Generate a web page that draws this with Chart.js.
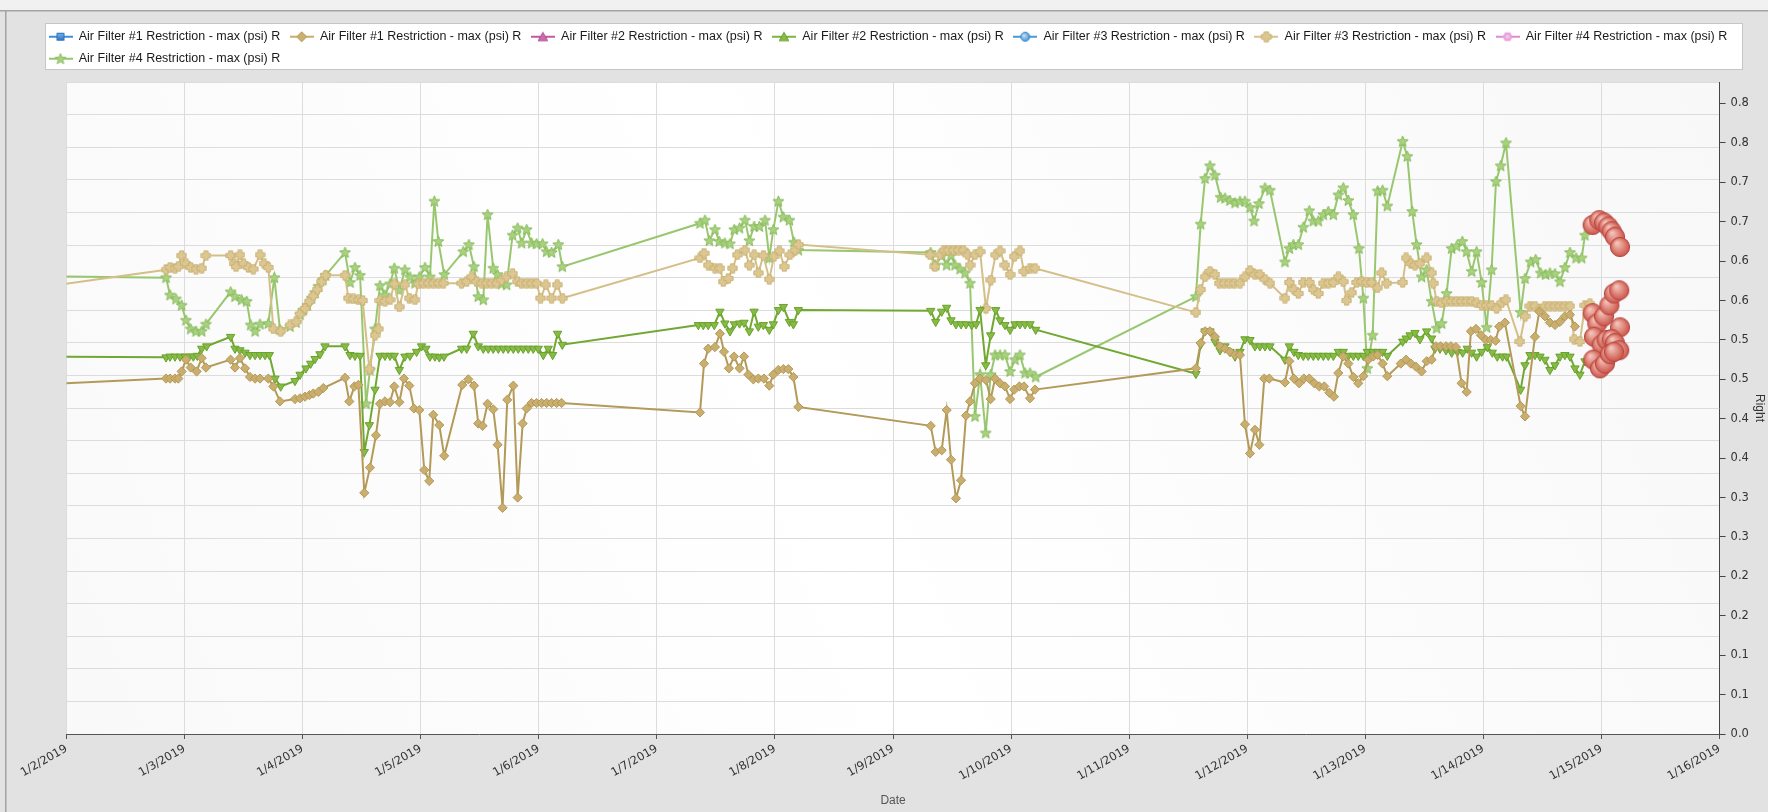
<!DOCTYPE html>
<html><head><meta charset="utf-8">
<script src="https://cdn.jsdelivr.net/npm/chart.js"></script>
<style>html,body{margin:0;padding:0;background:#e2e2e2;}canvas{display:block;}</style>
</head><body>
<canvas id="c" width="1768" height="812"></canvas>
<script>
// ---------- DATA ----------
const xTickLabels = ['1/2/2019','1/3/2019','1/4/2019','1/5/2019','1/6/2019','1/7/2019','1/8/2019','1/9/2019','1/10/2019','1/11/2019','1/12/2019','1/13/2019','1/14/2019','1/15/2019','1/16/2019'];
const yTickLabels = ['0.0','0.1','0.1','0.2','0.2','0.3','0.3','0.4','0.4','0.5','0.5','0.6','0.6','0.7','0.7','0.8','0.8'];
const seriesNames = [
 'Air Filter #1 Restriction - max (psi) R','Air Filter #1 Restriction - max (psi) R',
 'Air Filter #2 Restriction - max (psi) R','Air Filter #2 Restriction - max (psi) R',
 'Air Filter #3 Restriction - max (psi) R','Air Filter #3 Restriction - max (psi) R',
 'Air Filter #4 Restriction - max (psi) R','Air Filter #4 Restriction - max (psi) R'];

// [day offset from 1/2/2019, psi]
const filter1 = [
[-0.3,0.443],[0.843,0.451],[0.877,0.451],[0.919,0.451],[0.947,0.451],[0.975,0.460],[1.012,0.475],[1.052,0.465],[1.102,0.460],[1.145,0.477],[1.181,0.465],
[1.390,0.475],[1.427,0.465],[1.469,0.477],[1.512,0.464],[1.554,0.453],[1.597,0.451],[1.639,0.451],[1.709,0.451],[1.752,0.441],[1.808,0.422],
[1.935,0.425],[1.978,0.426],[2.020,0.428],[2.057,0.430],[2.090,0.432],[2.133,0.434],[2.175,0.439],[2.359,0.452],[2.395,0.422],[2.438,0.441],[2.472,0.443],
[2.522,0.306],[2.570,0.338],[2.621,0.379],[2.655,0.419],[2.697,0.422],[2.740,0.421],[2.776,0.441],[2.819,0.421],
[2.858,0.451],[2.903,0.442],[2.943,0.413],[2.988,0.411],[3.030,0.335],[3.072,0.321],[3.106,0.405],[3.157,0.392],[3.199,0.353],
[3.352,0.443],[3.403,0.450],[3.451,0.442],[3.487,0.394],[3.524,0.391],[3.566,0.419],[3.614,0.412],[3.651,0.367],[3.693,0.287],[3.733,0.424],[3.784,0.442],[3.821,0.300],[3.863,0.394],[3.897,0.413],
[3.939,0.420],[3.981,0.420],[4.024,0.420],[4.066,0.420],[4.108,0.420],[4.151,0.420],[4.193,0.420],
[5.365,0.408],[5.399,0.470],[5.435,0.489],[5.492,0.491],[5.534,0.508],[5.568,0.485],[5.610,0.464],[5.653,0.479],[5.700,0.464],[5.738,0.479],[5.775,0.456],[5.817,0.450],[5.859,0.451],[5.907,0.451],[5.952,0.442],[5.986,0.456],[6.029,0.462],[6.071,0.463],[6.113,0.463],[6.156,0.453],[6.198,0.415],
[7.319,0.391],[7.361,0.358],[7.412,0.360],[7.454,0.411],[7.491,0.348],[7.533,0.299],[7.576,0.322],[7.618,0.404],[7.652,0.422],[7.694,0.445],[7.737,0.451],[7.787,0.449],[7.827,0.425],[7.864,0.451],[7.906,0.445],[7.948,0.441],[7.991,0.425],[8.027,0.437],[8.070,0.441],[8.109,0.441],[8.160,0.426],[8.202,0.437],
[9.565,0.464],[9.605,0.496],[9.642,0.511],[9.684,0.511],[9.726,0.504],[9.769,0.492],[9.811,0.489],[9.853,0.485],[9.896,0.481],[9.938,0.481],[9.980,0.393],[10.023,0.356],[10.065,0.386],[10.102,0.367],[10.144,0.451],[10.186,0.451],
[10.319,0.446],[10.356,0.473],[10.395,0.451],[10.440,0.445],[10.480,0.451],[10.525,0.451],[10.568,0.445],[10.610,0.441],[10.652,0.441],[10.695,0.433],[10.734,0.428],[10.771,0.458],[10.813,0.479],[10.856,0.470],[10.898,0.453],[10.940,0.445],[10.983,0.454],[11.025,0.475],[11.067,0.479],[11.104,0.481],[11.146,0.470],[11.186,0.454],
[11.300,0.470],[11.345,0.475],[11.385,0.470],[11.428,0.466],[11.476,0.460],[11.519,0.473],[11.561,0.475],[11.598,0.492],[11.637,0.492],[11.683,0.492],[11.725,0.492],[11.767,0.491],[11.815,0.445],[11.858,0.434],[11.894,0.511],[11.937,0.514],[11.979,0.506],[12.021,0.500],[12.061,0.500],[12.103,0.499],[12.134,0.517],[12.182,0.522],
[12.315,0.416],[12.352,0.403],[12.436,0.504],[12.473,0.536],[12.521,0.530],[12.563,0.522],[12.606,0.519],[12.648,0.523],[12.690,0.530],[12.733,0.532],[12.775,0.517]
];
const filter2 = [
[-0.3,0.479],[0.843,0.478],[0.877,0.479],[0.919,0.479],[0.961,0.479],[1.004,0.479],[1.040,0.479],[1.074,0.479],[1.108,0.480],[1.145,0.489],[1.187,0.492],
[1.390,0.504],[1.427,0.489],[1.469,0.487],[1.512,0.484],[1.554,0.481],[1.597,0.481],[1.639,0.481],[1.681,0.481],[1.718,0.481],[1.766,0.451],[1.814,0.441],
[1.935,0.448],[1.978,0.456],[2.028,0.464],[2.068,0.470],[2.105,0.476],[2.147,0.482],[2.189,0.492],[2.359,0.492],[2.401,0.481],[2.443,0.480],[2.486,0.480],
[2.522,0.358],[2.565,0.392],[2.613,0.437],[2.655,0.480],[2.697,0.480],[2.740,0.480],[2.776,0.480],[2.819,0.462],
[2.866,0.479],[2.909,0.480],[2.965,0.485],[3.007,0.492],[3.044,0.489],[3.078,0.479],[3.120,0.479],[3.157,0.478],[3.197,0.479],
[3.346,0.489],[3.389,0.489],[3.445,0.508],[3.487,0.492],[3.530,0.489],[3.572,0.489],[3.614,0.489],[3.657,0.489],[3.699,0.489],[3.741,0.489],[3.784,0.489],[3.826,0.489],[3.868,0.489],[3.911,0.489],[3.953,0.489],[3.995,0.489],
[4.038,0.481],[4.080,0.489],[4.117,0.481],[4.159,0.508],[4.199,0.494],
[5.351,0.519],[5.393,0.519],[5.435,0.519],[5.486,0.519],[5.534,0.536],[5.576,0.521],[5.619,0.511],[5.656,0.520],[5.700,0.521],[5.738,0.522],[5.783,0.511],[5.823,0.536],[5.859,0.517],[5.902,0.519],[5.952,0.513],[5.986,0.520],[6.029,0.538],[6.071,0.542],[6.122,0.523],[6.156,0.520],[6.198,0.538],
[7.319,0.537],[7.361,0.523],[7.412,0.536],[7.454,0.541],[7.491,0.525],[7.533,0.520],[7.576,0.520],[7.618,0.520],[7.666,0.519],[7.703,0.520],[7.737,0.538],[7.785,0.468],[7.827,0.506],[7.869,0.538],[7.906,0.525],[7.948,0.519],[7.991,0.513],[8.033,0.520],[8.075,0.520],[8.118,0.520],[8.160,0.520],[8.208,0.513],
[9.565,0.457],[9.605,0.494],[9.642,0.511],[9.684,0.511],[9.726,0.498],[9.769,0.487],[9.811,0.492],[9.853,0.485],[9.896,0.479],[9.938,0.485],[9.980,0.501],[10.023,0.500],[10.065,0.492],[10.107,0.492],[10.150,0.492],[10.192,0.492],
[10.319,0.475],[10.356,0.492],[10.395,0.485],[10.432,0.481],[10.474,0.480],[10.516,0.480],[10.559,0.480],[10.601,0.480],[10.644,0.480],[10.686,0.480],[10.729,0.480],[10.771,0.485],[10.813,0.485],[10.856,0.480],[10.898,0.480],[10.940,0.480],[10.983,0.480],[11.016,0.485],[11.062,0.485],[11.104,0.485],[11.146,0.485],[11.186,0.480],
[11.316,0.498],[11.345,0.502],[11.378,0.506],[11.420,0.509],[11.462,0.501],[11.519,0.511],[11.561,0.502],[11.589,0.489],[11.632,0.489],[11.683,0.487],[11.731,0.484],[11.779,0.485],[11.824,0.484],[11.863,0.489],[11.900,0.484],[11.942,0.479],[11.985,0.485],[12.033,0.491],[12.075,0.484],[12.117,0.479],[12.162,0.479],[12.196,0.479],
[12.315,0.437],[12.352,0.468],[12.394,0.481],[12.436,0.481],[12.479,0.479],[12.521,0.475],[12.563,0.462],[12.606,0.468],[12.648,0.479],[12.690,0.481],[12.733,0.479],[12.775,0.464],[12.817,0.456],[12.860,0.473]
];
const filter3 = [
[-0.3,0.565],[0.843,0.589],[0.877,0.592],[0.919,0.591],[0.947,0.593],[0.975,0.607],[1.012,0.597],[1.052,0.592],[1.097,0.590],[1.145,0.591],[1.181,0.607],
[1.390,0.607],[1.419,0.597],[1.436,0.593],[1.469,0.608],[1.498,0.597],[1.540,0.592],[1.582,0.590],[1.639,0.608],[1.673,0.597],[1.709,0.592],[1.752,0.514],[1.814,0.511],
[1.893,0.519],[1.944,0.523],[1.978,0.533],[2.020,0.540],[2.057,0.549],[2.090,0.556],[2.124,0.564],[2.161,0.574],[2.195,0.582],[2.359,0.582],[2.387,0.553],[2.429,0.552],[2.472,0.551],[2.508,0.550],
[2.565,0.463],[2.613,0.506],[2.641,0.514],[2.655,0.550],[2.697,0.549],[2.740,0.551],[2.776,0.571],[2.819,0.542],
[2.866,0.570],[2.903,0.553],[2.951,0.551],[2.979,0.571],[3.022,0.572],[3.064,0.572],[3.106,0.572],[3.149,0.572],[3.191,0.572],
[3.346,0.572],[3.389,0.574],[3.431,0.580],[3.473,0.574],[3.516,0.572],[3.558,0.572],[3.600,0.572],[3.643,0.572],[3.685,0.576],[3.727,0.580],[3.778,0.584],[3.818,0.574],[3.854,0.572],[3.897,0.572],[3.939,0.572],[3.981,0.572],
[4.015,0.553],[4.060,0.570],[4.108,0.553],[4.156,0.570],[4.199,0.553],
[5.365,0.604],[5.399,0.610],[5.435,0.595],[5.492,0.591],[5.534,0.591],[5.562,0.574],[5.605,0.578],[5.641,0.591],[5.681,0.608],[5.746,0.614],[5.783,0.595],[5.823,0.608],[5.859,0.585],[5.902,0.607],[5.952,0.577],[5.992,0.606],[6.037,0.613],[6.079,0.593],[6.127,0.608],[6.170,0.614],[6.198,0.621],
[7.313,0.608],[7.355,0.593],[7.398,0.608],[7.432,0.614],[7.468,0.614],[7.511,0.614],[7.553,0.614],[7.595,0.614],[7.632,0.608],[7.652,0.595],[7.694,0.608],[7.737,0.612],[7.787,0.540],[7.827,0.576],[7.869,0.608],[7.906,0.613],[7.948,0.595],[7.991,0.583],[8.027,0.606],[8.075,0.613],[8.109,0.587],[8.160,0.591],[8.202,0.591],
[9.565,0.535],[9.605,0.564],[9.642,0.580],[9.684,0.587],[9.726,0.583],[9.763,0.572],[9.805,0.572],[9.848,0.572],[9.890,0.572],[9.938,0.572],[9.980,0.580],[10.023,0.588],[10.065,0.583],[10.107,0.583],[10.150,0.577],[10.192,0.572],
[10.319,0.553],[10.356,0.573],[10.395,0.564],[10.432,0.559],[10.474,0.573],[10.525,0.573],[10.559,0.564],[10.601,0.559],[10.644,0.572],[10.686,0.572],[10.729,0.573],[10.771,0.580],[10.813,0.574],[10.841,0.550],[10.884,0.560],[10.926,0.573],[10.969,0.574],[11.011,0.573],[11.053,0.573],[11.101,0.566],[11.138,0.585],[11.180,0.572],
[11.316,0.573],[11.345,0.604],[11.385,0.597],[11.420,0.595],[11.462,0.597],[11.519,0.604],[11.561,0.585],[11.575,0.572],[11.604,0.549],[11.646,0.547],[11.688,0.549],[11.731,0.549],[11.773,0.549],[11.815,0.549],[11.858,0.549],[11.900,0.549],[11.942,0.547],[11.985,0.544],[12.027,0.544],[12.069,0.544],[12.112,0.540],[12.154,0.547],[12.191,0.551],
[12.309,0.498],[12.352,0.530],[12.394,0.543],[12.436,0.543],[12.479,0.539],[12.521,0.543],[12.563,0.543],[12.606,0.543],[12.648,0.543],[12.690,0.543],[12.733,0.543],[12.769,0.501],[12.817,0.498],[12.860,0.544],[12.902,0.546]
];
const filter4 = [
[-0.3,0.581],[0.843,0.579],[0.877,0.557],[0.927,0.552],[0.975,0.544],[1.012,0.525],[1.052,0.514],[1.097,0.511],[1.145,0.511],[1.181,0.520],
[1.390,0.561],[1.427,0.555],[1.483,0.551],[1.526,0.549],[1.560,0.519],[1.597,0.511],[1.639,0.520],[1.709,0.521],[1.760,0.579],[1.808,0.513],
[1.893,0.517],[1.944,0.522],[1.978,0.532],[2.006,0.538],[2.040,0.544],[2.076,0.553],[2.105,0.560],[2.133,0.568],[2.170,0.576],[2.195,0.582],[2.359,0.611],[2.401,0.573],[2.443,0.592],[2.486,0.582],
[2.537,0.419],[2.570,0.462],[2.613,0.514],[2.655,0.569],[2.697,0.557],[2.740,0.571],[2.776,0.591],[2.819,0.563],
[2.866,0.589],[2.909,0.580],[2.951,0.572],[2.988,0.580],[3.036,0.592],[3.078,0.580],[3.115,0.676],[3.149,0.625],[3.199,0.583],
[3.360,0.612],[3.408,0.621],[3.451,0.593],[3.487,0.555],[3.530,0.551],[3.566,0.659],[3.614,0.591],[3.651,0.583],[3.685,0.571],[3.727,0.570],[3.778,0.633],[3.821,0.642],[3.854,0.623],[3.897,0.640],[3.939,0.623],[3.981,0.622],[4.032,0.622],[4.066,0.612],[4.108,0.611],[4.165,0.621],[4.199,0.593],
[5.365,0.648],[5.407,0.652],[5.444,0.626],[5.492,0.640],[5.528,0.625],[5.576,0.623],[5.619,0.622],[5.655,0.640],[5.700,0.642],
[5.746,0.652],[5.783,0.626],[5.823,0.644],[5.868,0.644],[5.916,0.652],[5.952,0.604],[5.986,0.640],[6.029,0.676],[6.071,0.656],[6.122,0.652],[6.161,0.624],[6.198,0.614],
[7.319,0.611],[7.361,0.595],[7.412,0.607],[7.454,0.595],[7.491,0.607],[7.525,0.595],[7.567,0.590],[7.610,0.585],[7.652,0.572],[7.694,0.403],[7.737,0.456],[7.785,0.382],[7.827,0.456],[7.864,0.481],[7.906,0.481],[7.948,0.481],[7.991,0.460],[8.033,0.475],[8.075,0.481],[8.118,0.458],[8.160,0.458],[8.208,0.453],
[9.565,0.555],[9.605,0.647],[9.642,0.705],[9.684,0.721],[9.726,0.709],[9.774,0.681],[9.811,0.680],[9.853,0.677],[9.896,0.674],[9.938,0.676],[9.980,0.676],[10.023,0.668],[10.057,0.651],[10.099,0.673],[10.150,0.693],[10.192,0.690],
[10.319,0.599],[10.356,0.616],[10.390,0.621],[10.432,0.621],[10.474,0.643],[10.525,0.664],[10.559,0.651],[10.601,0.651],[10.644,0.659],[10.686,0.663],[10.729,0.659],[10.771,0.684],[10.813,0.693],[10.856,0.677],[10.898,0.659],[10.946,0.616],[10.983,0.553],[11.016,0.464],[11.062,0.506],[11.104,0.689],[11.146,0.690],[11.186,0.670],
[11.316,0.752],[11.355,0.733],[11.397,0.663],[11.434,0.621],[11.476,0.580],[11.519,0.589],[11.561,0.549],[11.604,0.515],[11.646,0.521],[11.688,0.559],[11.731,0.616],[11.773,0.619],[11.821,0.625],[11.858,0.612],[11.900,0.587],[11.942,0.612],[11.985,0.573],[12.027,0.516],[12.069,0.589],[12.106,0.701],[12.146,0.721],[12.191,0.750],
[12.315,0.535],[12.352,0.578],[12.400,0.599],[12.442,0.602],[12.485,0.585],[12.527,0.583],[12.563,0.585],[12.606,0.584],[12.648,0.574],[12.690,0.592],[12.733,0.611],[12.784,0.604],[12.832,0.604],[12.860,0.633],[12.902,0.644]
];
const highlighted = [
[12.925,0.646],[12.981,0.652],[13.021,0.649],[13.057,0.644],[13.086,0.638],[13.114,0.631],[13.156,0.618],
[12.925,0.534],[12.964,0.521],[13.021,0.530],[13.066,0.544],[13.105,0.559],[13.150,0.563],[13.156,0.516],
[12.936,0.504],[13.001,0.494],[13.043,0.500],[13.086,0.501],[13.114,0.496],[13.150,0.487],
[12.930,0.475],[12.987,0.464],[13.029,0.470],[13.071,0.482],[13.105,0.485]
];

// ---------- MARKER IMAGES ----------
function mk(w,h,fn){const c=document.createElement('canvas');c.width=w;c.height=h;const g=c.getContext('2d');fn(g,w,h);return c;}
function starPath(g,cx,cy,R,r){g.beginPath();for(let i=0;i<10;i++){const a=-Math.PI/2+i*Math.PI/5,rr=i%2?r:R;g.lineTo(cx+rr*Math.cos(a),cy+rr*Math.sin(a));}g.closePath();}
function diamondPath(g,cx,cy,r){g.beginPath();g.moveTo(cx,cy-r);g.lineTo(cx+r,cy);g.lineTo(cx,cy+r);g.lineTo(cx-r,cy);g.closePath();}
function plusPath(g,cx,cy,r,t){g.beginPath();g.moveTo(cx-t,cy-r);g.lineTo(cx+t,cy-r);g.lineTo(cx+t,cy-t);g.lineTo(cx+r,cy-t);g.lineTo(cx+r,cy+t);g.lineTo(cx+t,cy+t);g.lineTo(cx+t,cy+r);g.lineTo(cx-t,cy+r);g.lineTo(cx-t,cy+t);g.lineTo(cx-r,cy+t);g.lineTo(cx-r,cy-t);g.lineTo(cx-t,cy-t);g.closePath();}
function triPath(g,cx,cy,r,down){g.beginPath();const s=down?-1:1;g.moveTo(cx,cy-s*r);g.lineTo(cx+r*0.95,cy+s*r*0.7);g.lineTo(cx-r*0.95,cy+s*r*0.7);g.closePath();}
function fillStroke(g,f,s,lw){g.fillStyle=f;g.fill();g.strokeStyle=s;g.lineWidth=lw||1;g.lineJoin='round';g.stroke();}

const starImg = mk(13,13,g=>{starPath(g,6.5,6.8,5.8,2.5);fillStroke(g,'#a9d280','#88bb5c',1);});
const plusImg = mk(11,11,g=>{plusPath(g,5.5,5.5,4.6,2.1);fillStroke(g,'#dcc792','#c9b173',1);});
const redImg = mk(22,22,g=>{const gr=g.createRadialGradient(8,7,1,11,11,10);gr.addColorStop(0,'#f3c1b8');gr.addColorStop(0.55,'#de8478');gr.addColorStop(1,'#c9514a');g.beginPath();g.arc(11,11,9.6,0,Math.PI*2);g.fillStyle=gr;g.fill();g.strokeStyle='#b5463f';g.lineWidth=1;g.stroke();});

function legendIcon(lineColor, drawMarker){return mk(24,12,g=>{g.strokeStyle=lineColor;g.lineWidth=2;g.beginPath();g.moveTo(0,6);g.lineTo(24,6);g.stroke();drawMarker(g);});}
const legendIcons = [
 legendIcon('#3f8fd8',g=>{g.beginPath();g.rect(8.5,2.5,7,7);const gr=g.createLinearGradient(0,2,0,10);gr.addColorStop(0,'#7ab8ee');gr.addColorStop(1,'#2a72c2');fillStroke(g,gr,'#2a6db8',1);}),
 legendIcon('#c8ad6c',g=>{diamondPath(g,12,6,5);fillStroke(g,'#cbb072','#b29856',1);}),
 legendIcon('#c25aa2',g=>{triPath(g,12,6.5,5,false);fillStroke(g,'#cc6cae','#b04f93',1);}),
 legendIcon('#7db340',g=>{triPath(g,12,5.5,5,true);fillStroke(g,'#86bc45','#6aa22c',1);}),
 legendIcon('#4a9ad8',g=>{g.beginPath();g.arc(12,6,4.5,0,Math.PI*2);const gr=g.createRadialGradient(10.5,4.5,0.5,12,6,5);gr.addColorStop(0,'#bfe0fa');gr.addColorStop(1,'#3d8fd4');fillStroke(g,gr,'#3a86c8',1);}),
 legendIcon('#d6c28c',g=>{plusPath(g,12,6,5,2.2);fillStroke(g,'#dcc792','#c9b173',1);}),
 legendIcon('#e08ad0',g=>{for(let i=0;i<6;i++){const a=i*Math.PI/3;g.beginPath();g.arc(12+2.6*Math.cos(a),6+2.6*Math.sin(a),2.2,0,Math.PI*2);g.fillStyle='#e7a2da';g.fill();}g.beginPath();g.arc(12,6,2,0,Math.PI*2);g.fillStyle='#f2c8ec';g.fill();}),
 legendIcon('#98c66e',g=>{starPath(g,12,6.4,5.6,2.4);fillStroke(g,'#a9d280','#88bb5c',1);})
];

// ---------- CHART ----------
const toPts = arr => arr.map(p => ({x: p[0], y: p[1]}));
function series(label, arr, cfg){return Object.assign({label, data: toPts(arr), xAxisID:'x', yAxisID:'y', tension:0, borderWidth:2, pointBorderWidth:1, fill:false}, cfg);}

const datasets = [
 series(seriesNames[0], [], {borderColor:'#3f8fd8', backgroundColor:'#3f8fd8', pointStyle:'rect'}),
 series(seriesNames[1], filter1, {borderColor:'#b39a58', backgroundColor:'#c9ae6e', pointBorderColor:'#b39a58', pointStyle:'rectRot', pointRadius:4.6}),
 series(seriesNames[2], [], {borderColor:'#c25aa2', backgroundColor:'#c25aa2', pointStyle:'triangle'}),
 series(seriesNames[3], filter2, {borderColor:'#71a832', backgroundColor:'#86bc45', pointBorderColor:'#6aa22c', pointStyle:'triangle', pointRotation:180, pointRadius:4.8}),
 series(seriesNames[4], [], {borderColor:'#4a9ad8', backgroundColor:'#4a9ad8', pointStyle:'circle'}),
 series(seriesNames[5], filter3, {borderColor:'#d4bf88', backgroundColor:'#dcc792', pointStyle:plusImg, pointRadius:5}),
 series(seriesNames[6], [], {borderColor:'#e08ad0', backgroundColor:'#e08ad0', pointStyle:'circle'}),
 series(seriesNames[7], filter4, {borderColor:'#99c76f', backgroundColor:'#a9d280', pointStyle:starImg, pointRadius:6}),
 series('highlight', highlighted, {showLine:false, pointStyle:redImg, pointRadius:10, borderColor:'#b5463f', backgroundColor:'#de8478', order:-1})
];
const highlightIndex = 8;

const framePlugin = {
 id:'frame',
 beforeDraw(chart){
  const {ctx, width, height, chartArea:a} = chart;
  ctx.save();
  ctx.fillStyle='#e2e2e2'; ctx.fillRect(0,0,width,height);
  ctx.fillStyle='#f1f1f1'; ctx.fillRect(0,0,width,10);
  ctx.fillStyle='#a3a3a3'; ctx.fillRect(0,10,width,1.5); ctx.fillRect(5,10,1.5,height-10);
  ctx.fillStyle='#ffffff'; ctx.fillRect(45.5,23.5,width-71,46);
  ctx.strokeStyle='#c6c6c6'; ctx.lineWidth=1; ctx.strokeRect(45.5,23.5,width-71,46);
  const gr = ctx.createLinearGradient(a.left,a.bottom,a.right,a.top);
  gr.addColorStop(0,'#f9f9f9'); gr.addColorStop(0.45,'#ffffff'); gr.addColorStop(1,'#f8f8f8');
  ctx.fillStyle=gr; ctx.fillRect(a.left,a.top,a.right-a.left,a.bottom-a.top);
  ctx.restore();
 }
};

new Chart(document.getElementById('c'), {
 type:'line',
 data:{datasets},
 plugins:[framePlugin],
 options:{
  responsive:false, animation:false, devicePixelRatio:1,
  layout:{padding:{left:39, top:21, right:0, bottom:0}},
  plugins:{
   tooltip:{enabled:false},
   title:{display:true, text:'', position:'top', weight:500, font:{size:1, lineHeight:1}, padding:{top:6, bottom:0}},
   legend:{position:'top', align:'start',
    labels:{usePointStyle:true, pointStyleWidth:24, padding:9.5, color:'#1a1a1a',
     font:{family:'"Liberation Sans", Arial, sans-serif', size:12.5},
     generateLabels(chart){
      const items = Chart.defaults.plugins.legend.labels.generateLabels(chart);
      return items.filter(it => it.datasetIndex !== highlightIndex).map(it => Object.assign(it, {pointStyle: legendIcons[it.datasetIndex]}));
     }}}
  },
  scales:{
   x:{type:'linear', position:'bottom', min:0, max:14,
      ticks:{stepSize:1, autoSkip:false, minRotation:30, maxRotation:30, padding:3, color:'#333',
        font:{family:'"DejaVu Sans", sans-serif', size:11.5}, callback:v => xTickLabels[Math.round(v)] ?? ''},
      grid:{color:'#dcdcdc', lineWidth:1, tickLength:5, tickColor:'#555'},
      border:{display:true, color:'#555', width:1},
      title:{display:true, text:'Date', color:'#555', font:{family:'"Liberation Sans", Arial, sans-serif', size:12}, padding:{top:2, bottom:4}},
      afterFit(s){ s.height = 78; }},
   yg:{type:'linear', position:'left', min:0, max:1,
      ticks:{display:false, stepSize:0.05},
      grid:{color:'#dcdcdc', lineWidth:1, drawTicks:false},
      border:{display:false},
      afterFit(s){ s.width = 27.5; }},
   y:{type:'linear', position:'right', min:0, max:0.8273,
      ticks:{stepSize:0.05, includeBounds:false, padding:5, color:'#333',
        font:{family:'"DejaVu Sans", sans-serif', size:11.5}, callback:(v,i) => yTickLabels[i] ?? ''},
      grid:{drawOnChartArea:false, tickLength:6, color:'#444'},
      border:{display:true, color:'#444', width:1},
      title:{display:true, text:'Right', color:'#333', font:{family:'"Liberation Sans", Arial, sans-serif', size:12}, padding:{top:1, bottom:0}},
      afterFit(s){ s.width = 48.4; }}
  }
 }
});
</script>
</body></html>
